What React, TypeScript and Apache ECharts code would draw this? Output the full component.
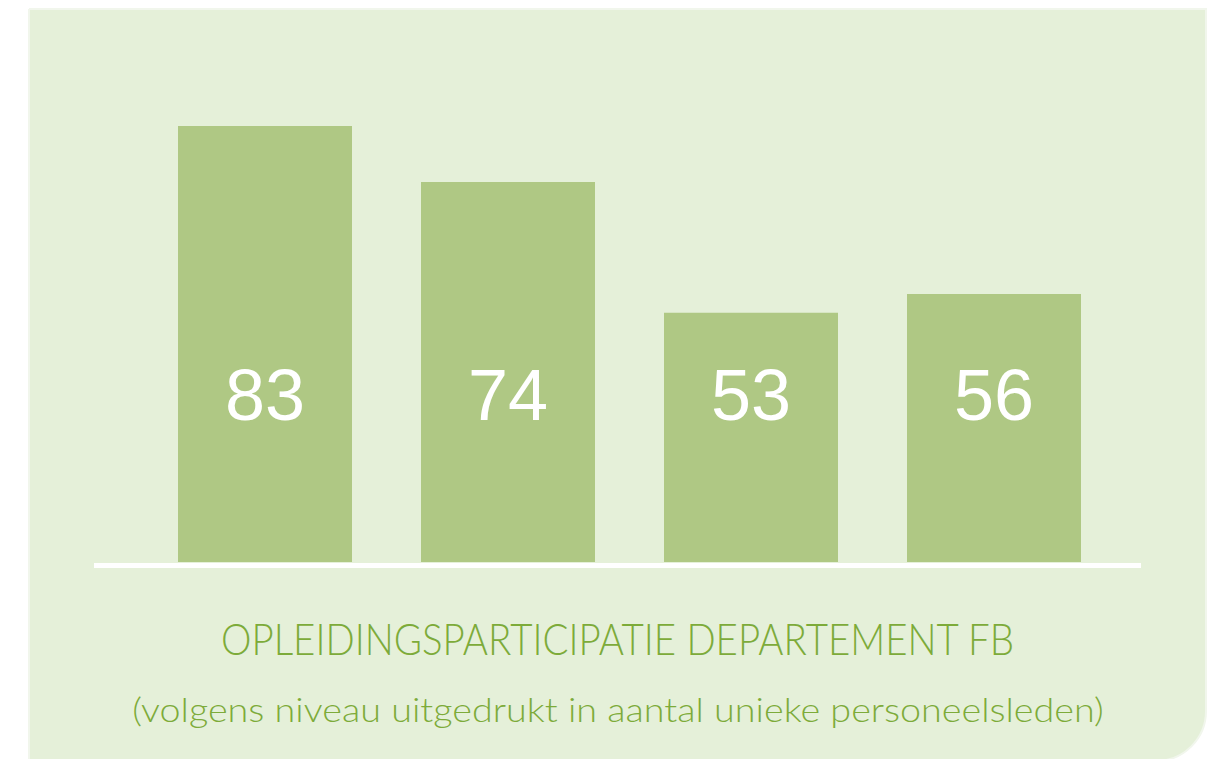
import React, { useEffect, useRef } from "react";
import * as echarts from "echarts";

const categories = ["Niveau 1", "Niveau 2", "Niveau 3", "Niveau 4"];
const values = [83, 74, 53, 56];
const title = "OPLEIDINGSPARTICIPATIE DEPARTEMENT FB";
const subtitle = "(volgens niveau uitgedrukt in aantal unieke personeelsleden)";

export default function App() {
  const ref = useRef<HTMLDivElement>(null);
  useEffect(() => {
    if (!ref.current) return;
    const chart = echarts.init(ref.current, undefined, { renderer: "svg" });
    chart.setOption({
      animation: false,
      backgroundColor: "#ffffff",
      grid: { left: 143.5, right: 105.5, top: 20, bottom: 197 },
      xAxis: {
        type: "category",
        data: categories,
        axisLine: { show: false },
        axisTick: { show: false },
        axisLabel: { show: false },
        splitLine: { show: false },
      },
      yAxis: {
        type: "value",
        min: 13,
        max: 100,
        show: false,
        splitLine: { show: false },
      },
      graphic: [
        {
          type: "rect",
          z: -10,
          shape: { x: 29, y: 9, width: 1177, height: 752, r: [0, 0, 50, 0] },
          style: { fill: "#e5f0d9", stroke: "#f1f6ec", lineWidth: 2 },
        },
        {
          type: "rect",
          z: -5,
          shape: { x: 94, y: 563, width: 1047, height: 5 },
          style: { fill: "#ffffff" },
        },
        {
          type: "text",
          z: 5,
          x: 617.5,
          y: 638,
          scaleX: 0.874,
          style: {
            text: title,
            fontFamily: "Lato",
            fontWeight: 300,
            fontSize: 44,
            fill: "#7dab3a",
            align: "center",
            verticalAlign: "middle",
          },
        },
        {
          type: "text",
          z: 5,
          x: 618,
          y: 709,
          scaleX: 1.144,
          style: {
            text: subtitle,
            fontFamily: "Lato",
            fontWeight: 300,
            fontSize: 33,
            fill: "#7dab3a",
            align: "center",
            verticalAlign: "middle",
          },
        },
      ],
      series: [
        {
          type: "bar",
          data: values,
          barWidth: 174,
          itemStyle: { color: "#afc884" },
          label: {
            show: true,
            position: "insideBottom",
            distance: 131,
            color: "#ffffff",
            fontFamily: "Liberation Sans, Arial, sans-serif",
            fontSize: 72,
            lineHeight: 72,
            verticalAlign: "bottom",
          },
        },
      ],
    });
    return () => chart.dispose();
  }, []);
  return (
    <div
      ref={ref}
      style={{ position: "fixed", left: 0, top: 0, width: 1221, height: 759 }}
    />
  );
}
